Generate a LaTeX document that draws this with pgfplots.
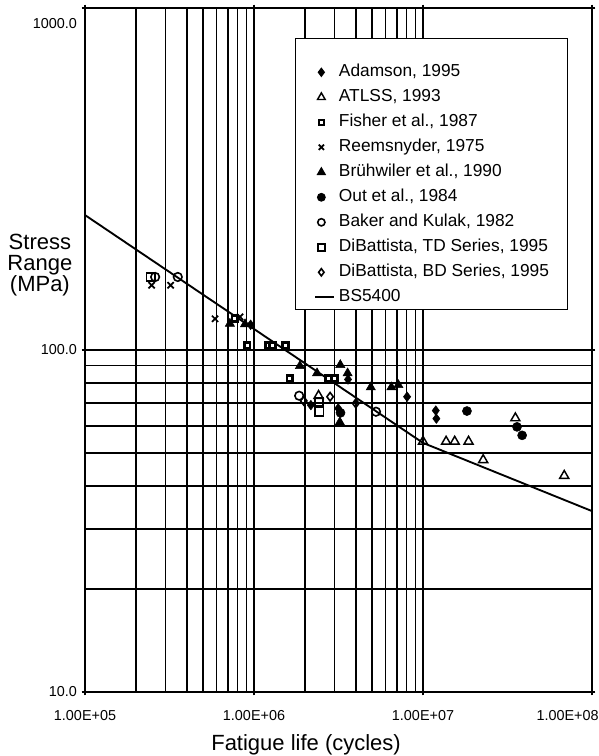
\documentclass[border=0pt]{standalone}
\usepackage{fontspec}
\setmainfont{Liberation Sans}
\usepackage{pgfplots}
\pgfplotsset{compat=1.18}

\pgfdeclareplotmark{fisher}{%
  \pgfpathrectangle{\pgfpoint{-\pgfplotmarksize}{-\pgfplotmarksize}}{\pgfpoint{2\pgfplotmarksize}{2\pgfplotmarksize}}%
  \pgfusepathqfill
  \begin{pgfscope}
  \pgfsetfillcolor{white}%
  \pgfpathrectangle{\pgfpoint{-0.35\pgfplotmarksize}{-0.35\pgfplotmarksize}}{\pgfpoint{0.7\pgfplotmarksize}{0.7\pgfplotmarksize}}%
  \pgfusepathqfill
  \end{pgfscope}
}

\begin{document}
\begin{tikzpicture}
\begin{axis}[
  width=380.25pt, height=513pt, scale only axis,
  xmode=log, ymode=log,
  xmin=1e5, xmax=1e8, ymin=10, ymax=1000,
  xtick={1e5,1e6,1e7}, xticklabels={1.00E+05,1.00E+06,1.00E+07},
  extra x ticks={1e8}, extra x tick labels={1.00E+08},
  extra x tick style={grid=major, xticklabel style={anchor=north east, xshift=8.5pt}},
  ytick={10,100}, yticklabels={10.0,100.0},
  extra y ticks={1000}, extra y tick labels={1000.0},
  extra y tick style={grid=major, yticklabel style={anchor=north east, yshift=-4pt}},
  grid=both,
  major grid style={black, line width=1.15pt},
  minor grid style={black, line width=1.15pt},
  axis line style={black, line width=1.2pt},
  tick style={black, line width=0.8pt},
  tick align=center, major tick length=5pt, minor tick length=0pt,
  ticklabel style={font=\fontsize{10.8}{12}\selectfont},
  xticklabel style={yshift=-8pt},
  xlabel={Fatigue life (cycles)},
  xlabel style={font=\fontsize{16.5}{18}\selectfont, at={(axis description cs:0.436,-0.0775)}, anchor=center},
  ylabel={Stress\\Range\\(MPa)},
  ylabel style={rotate=-90, align=center, font=\fontsize{16.5}{16}\selectfont, at={(axis description cs:-0.089,0.624)}, anchor=center},
  legend style={at={(axis description cs:0.953,0.956)}, anchor=north east, draw=black, line width=0.8pt, fill=white,
    font=\fontsize{13}{15}\selectfont, inner xsep=14pt, inner ysep=3pt, row sep=5.75pt, column sep=3pt,
    nodes={inner sep=0pt, text height=10pt, text depth=3pt, anchor=west}},
  legend cell align=left,
  legend image code/.code={\draw[mark repeat=2,mark phase=2,#1,every mark/.append style={scale=0.85}] plot coordinates {(0pt,0pt) (4.5pt,0pt) (14pt,0pt)};},
]
\coordinate (bl) at (rel axis cs:0,0);
\coordinate (tr) at (rel axis cs:1,1);

\addlegendimage{empty legend}
\addlegendentry[text depth=0pt]{}

% Adamson, 1995
\addplot[only marks, mark=diamond*, mark size=3.6pt, black] coordinates {
(9.55e5,118.5) (3.6e6,82) (2.17e6,69) (3.15e6,67.5) (8.05e6,73) (1.19e7,66.5) (1.20e7,63)};
\addlegendentry{Adamson, 1995}
% ATLSS, 1993
\addplot[only marks, mark=triangle, mark size=3.9pt, black, line width=1.1pt] coordinates {
(2.41e6,73.5) (1.0e7,54) (1.37e7,54) (1.54e7,54) (1.86e7,54) (2.27e7,47.7) (3.52e7,63.2) (6.85e7,42.9)};
\addlegendentry{ATLSS, 1993}
% Fisher et al., 1987
\addplot[only marks, mark=fisher, mark size=3.2pt, black] coordinates {
(7.7e5,123.4) (9.1e5,103.4) (1.21e6,103.4) (1.29e6,103.4) (1.54e6,103.4) (1.63e6,82.6) (2.75e6,82.6) (3.0e6,82.6)};
\addlegendentry{Fisher et al., 1987}
% Reemsnyder, 1975
\addplot[only marks, mark=x, mark size=3.3pt, black, line width=1.3pt] coordinates {
(2.48e5,154.6) (3.21e5,154.6) (5.88e5,123.4) (8.27e5,125)};
\addlegendentry{Reemsnyder, 1975}
% Bruhwiler et al., 1990
\addplot[only marks, mark=triangle*, mark size=4pt, black] coordinates {
(7.2e5,119.4) (8.85e5,119) (1.87e6,89.8) (2.36e6,85.5) (3.24e6,90.4) (3.58e6,85.5) (4.91e6,77.8) (6.5e6,77.8) (7.15e6,79) (3.22e6,61.5)};
\addlegendentry{Brühwiler et al., 1990}
% Out et al., 1984
\addplot[only marks, mark=*, mark size=3.4pt, black] coordinates {
(3.25e6,65.5) (1.82e7,66.3) (3.6e7,59.6) (3.86e7,56.3)};
\addlegendentry{Out et al., 1984}
% Baker and Kulak, 1982
\addplot[only marks, mark=o, mark size=3.2pt, black, line width=1.2pt] coordinates {
(2.6e5,163.5) (3.54e5,163.5) (1.85e6,73.5) (5.27e6,66)};
\addlegendentry{Baker and Kulak, 1982}
% DiBattista, TD Series, 1995
\addplot[only marks, mark=square, mark size=3.1pt, black, line width=1.2pt] coordinates {
(2.45e5,163.5) (2.42e6,70.5) (2.43e6,66)};
\addlegendentry{DiBattista, TD Series, 1995}
% DiBattista, BD Series, 1995
\addplot[only marks, mark=diamond, mark size=3.2pt, black, line width=1.2pt] coordinates {
(1.97e6,71) (2.82e6,73) (4.0e6,69.8)};
\addlegendentry{DiBattista, BD Series, 1995}
% BS5400
\addplot[black, line width=1.4pt, no marks] coordinates {(1e5,248) (1e7,53.5) (1e8,33.8)};
\addlegendentry{BS5400}
\end{axis}
\pgfresetboundingbox
\path ([shift={(-63.75pt,-48pt)}]bl) rectangle ([shift={(5.25pt,6pt)}]tr);
\end{tikzpicture}
\end{document}
